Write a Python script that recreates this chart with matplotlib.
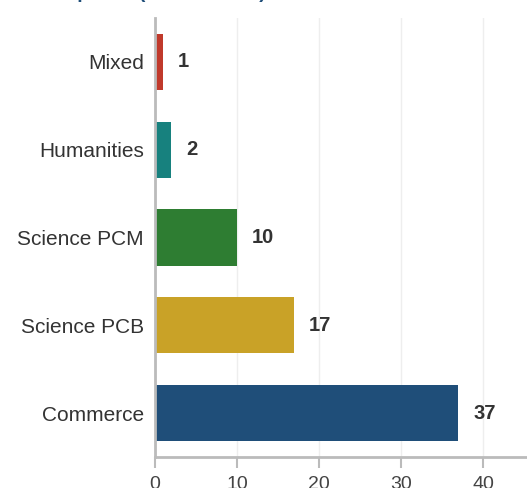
import matplotlib.pyplot as plt

categories = ['Commerce', 'Science PCB', 'Science PCM', 'Humanities', 'Mixed']
counts = [37, 17, 10, 2, 1]
bar_colors = ['#1f4e79', '#c9a227', '#2e7d32', '#17817e', '#c0392b']
xticks = [0, 10, 20, 30, 40]

plt.rcParams['font.family'] = ['Liberation Sans', 'DejaVu Sans']

fig = plt.figure(figsize=(5.27, 4.88), dpi=100)
ax = fig.add_axes([155 / 527, 31 / 488, 1 - 155 / 527, 439 / 488])

ypos = range(len(categories))
ax.barh(ypos, counts, height=0.64, color=bar_colors, zorder=2)

for y, v in zip(ypos, counts):
    ax.text(v + 1.8, y, str(v), va='center', ha='left',
            fontsize=14.5, fontweight='bold', color='#333333')

ax.set_yticks(list(ypos))
ax.set_yticklabels(categories, fontsize=15, color='#333333')
ax.set_xticks(xticks)
ax.set_xticklabels([str(t) for t in xticks], fontsize=14, color='#444444')
ax.set_xlim(0, (527 - 155) / 8.2)
ax.set_ylim(-0.5, 4.5)

ax.tick_params(axis='y', length=0, pad=8)
ax.tick_params(axis='x', length=8, width=1.5, color='#bbbbbb', pad=5.5)
ax.grid(axis='x', color='#eeeeee', linewidth=1, zorder=0)
ax.set_axisbelow(True)
for side in ['top', 'right']:
    ax.spines[side].set_visible(False)
for side in ['left', 'bottom']:
    ax.spines[side].set_color('#bbbbbb')
    ax.spines[side].set_linewidth(2)

# title sits mostly above the visible area, as in the cropped original
fig.text(-0.077, 1 + 1.5 / 488, 'Stream Group Size (All Students)', fontsize=14,
         fontweight='bold', color='#1f4e79', va='baseline', ha='left')

fig.savefig('out.png', dpi=100)
